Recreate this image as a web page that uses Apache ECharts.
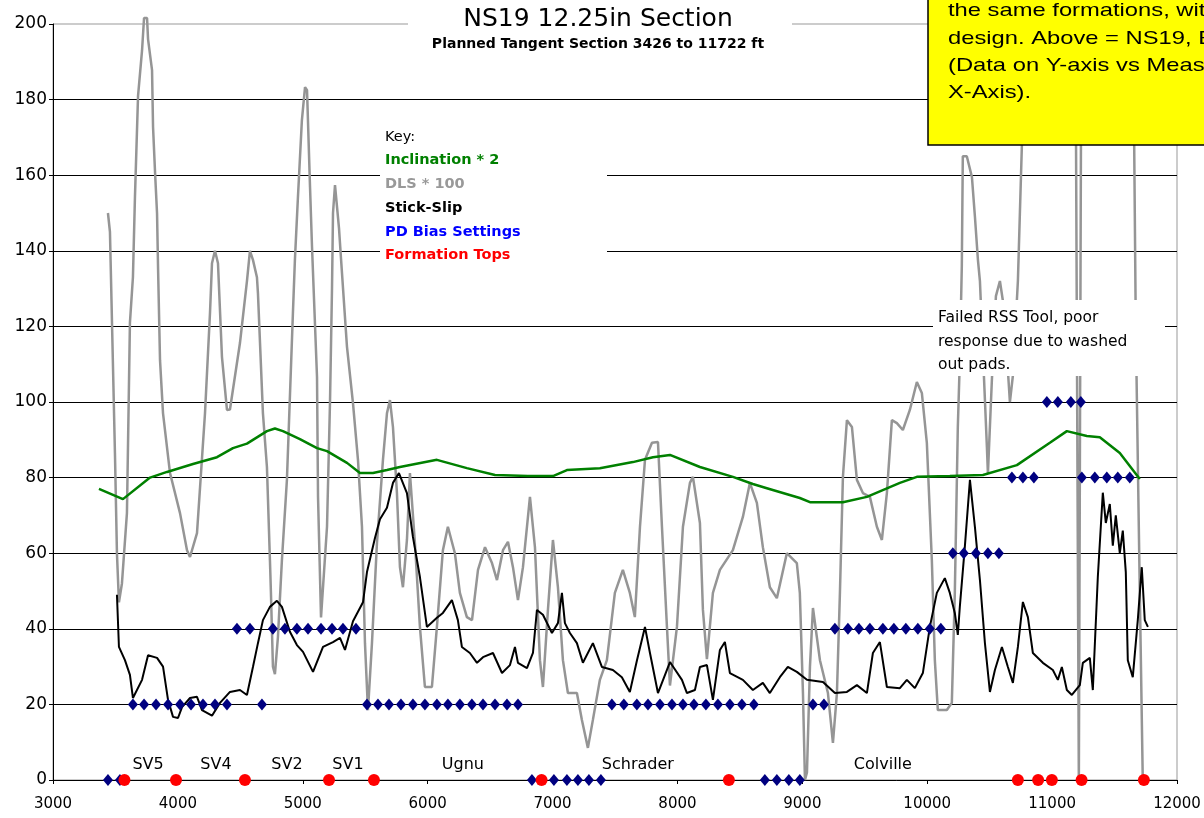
<!DOCTYPE html>
<html><head><meta charset="utf-8">
<script src="https://cdn.jsdelivr.net/npm/echarts@6/dist/echarts.min.js"></script>
<style>html,body{margin:0;padding:0;background:#fff}#c{width:1204px;height:818px}</style>
</head><body><div id="c"></div>
<script>
// ---- DATA ----
const incDepth = [3368,3560,3777,3913,4121,4313,4441,4553,4713,4777,4841,4977,5114,5194,5354,5458,5562,5674,5778,6074,6314,6539,6803,7003,7115,7379,7643,7804,7940,8180,8444,8604,8716,8980,9061,9325,9517,9781,9917,10181,10446,10718,10982,11118,11278,11382,11542,11702];
const incValue = [77,74.3,80,81.5,83.6,85.4,87.8,89,92.3,93,92.3,90.2,87.8,87,83.9,81.2,81.2,82,82.8,84.7,82.5,80.7,80.4,80.4,82,82.5,84.1,85.4,86,82.8,80.2,78.3,77.2,74.6,73.5,73.5,74.9,78.6,80.2,80.4,80.7,83.3,89.2,92.3,91,90.7,86.5,79.6];

const dlsDepth = [3440,3456,3496,3512,3528,3552,3592,3616,3640,3656,3681,3713,3729,3753,3761,3793,3801,3817,3833,3841,3857,3881,3937,4017,4073,4097,4153,4217,4257,4273,4297,4321,4353,4393,4417,4497,4553,4577,4601,4633,4641,4681,4713,4737,4745,4761,4777,4801,4833,4873,4921,4937,4961,4993,5018,5034,5058,5074,5114,5122,5146,5170,5194,5218,5234,5242,5258,5274,5290,5306,5354,5402,5442,5474,5498,5522,5554,5594,5642,5674,5698,5722,5754,5778,5802,5834,5858,5898,5938,5978,6034,6074,6122,6162,6218,6258,6314,6355,6403,6459,6515,6555,6603,6643,6683,6723,6763,6819,6859,6899,6923,6963,7003,7043,7083,7123,7195,7235,7283,7323,7379,7435,7499,7563,7619,7659,7700,7740,7796,7844,7876,7916,7940,7996,8044,8100,8124,8180,8204,8236,8284,8340,8444,8524,8580,8636,8684,8740,8796,8876,8956,8980,9005,9021,9037,9061,9085,9141,9205,9245,9277,9301,9325,9357,9397,9437,9485,9541,9597,9637,9677,9717,9757,9805,9861,9917,9957,9997,10037,10061,10085,10157,10197,10221,10245,10261,10277,10285,10317,10358,10382,10406,10422,10478,10486,10518,10550,10582,10614,10662,10686,10726,10758,10790,11182,11214,11238,11638,11670,11702,11726];
const dlsValue = [150,145,86.5,60,47,52,70.6,121,133,154,181,193,201.6,201.6,196,187.8,172.8,160.8,150,135.7,111,97,81.2,70.6,60.8,59,65.3,97,123.5,136.7,140,136.7,111.9,97.9,98,115.6,132,140,137.6,133,128.8,97,82.8,58.2,49.5,30,28,37.8,58.2,79.4,123.5,137.6,154,174.6,183.3,182.5,156.9,141,106.6,75,43,55,67,100,130,150,157.4,157,146,138,114.6,99.7,84.7,67,36.2,18.5,36.2,62.7,84.7,97,100.5,93.4,75.9,56.3,51,63.5,81.2,62.7,40.5,24.6,24.6,40.5,60.8,67,60,49.5,43.1,42.3,55.6,61.6,57.4,52.9,60.8,63,56.3,47.6,56.3,74.9,61.6,31.7,24.6,45,63.5,51,31.7,23,23,15.9,8.5,15.9,26.5,31.7,49.5,55.6,49.5,43.1,67,84.7,89.2,89.4,67,40.5,25,40.5,67,78.6,80.2,68,45,32,49.5,55.6,60.8,69.6,78.6,73.3,61.6,51,48.1,60,57.4,49.5,23,0,2,30,45.5,31.7,23,9.8,23,49.5,80.2,95.2,93.4,79.4,75.9,74.9,67,63.5,75.9,95.2,94.4,92.6,97.9,105.3,102.4,89.2,58.2,31.7,18.5,18.5,20.4,49.5,93.4,111,136,165,165,159.5,149,137.6,132,88,81,106,128,132,125,100,107,132,168,240,240,0,240,240,120,50,0];

const ssDepth = [3512,3528,3576,3616,3640,3713,3761,3833,3881,3921,3961,4001,4033,4097,4153,4193,4273,4337,4417,4497,4553,4601,4641,4681,4737,4793,4833,4897,4953,5002,5082,5162,5242,5298,5338,5402,5482,5514,5578,5618,5674,5722,5770,5834,5882,5938,5994,6074,6122,6194,6242,6274,6338,6395,6443,6523,6595,6659,6699,6723,6795,6843,6875,6923,6995,7043,7075,7099,7139,7195,7243,7323,7395,7483,7555,7619,7676,7740,7780,7844,7940,8036,8076,8140,8180,8236,8284,8340,8380,8420,8524,8604,8684,8740,8820,8884,8956,9037,9165,9261,9357,9437,9517,9565,9621,9677,9781,9837,9901,9965,10021,10077,10141,10181,10221,10245,10261,10301,10342,10358,10382,10422,10462,10502,10542,10598,10646,10686,10726,10766,10806,10846,10926,11006,11046,11078,11118,11158,11222,11246,11302,11326,11366,11406,11430,11462,11486,11510,11542,11566,11590,11606,11646,11686,11718,11742,11767];
const ssValue = [49,35.2,31.7,27.8,21.7,26.5,33,32.3,30,21.2,16.7,16.4,19.3,21.7,22,18.5,17,20.4,23.3,23.8,22.5,29.9,36.2,42.3,45.8,47.4,45.8,39.2,35.7,33.9,28.6,35.2,36.5,37.6,34.4,42,47,55,64,69,72,78.6,81.2,75.9,64.3,53.7,40.5,42.9,44.2,47.6,42.3,35.2,33.6,31,32.5,33.6,28.3,30.4,35.2,31,29.6,33.6,45,43.7,38.9,41.5,49.5,41.5,38.9,36.2,31,36.2,29.9,29.1,27.2,23.3,31.7,40.5,33.6,23,31.2,26.5,23,23.8,29.9,30.4,21.2,34.4,36.5,28.3,26.5,23.8,25.7,23,27.2,29.9,28.6,26.5,25.9,23,23.3,25.1,23,33.6,36.5,24.6,24.3,26.5,24.3,28.3,40.5,49.5,53.4,49.5,44.2,38.4,45.8,61.6,79.4,79.9,66.9,52.9,36.2,23.3,29.1,35.2,29.9,25.7,35.2,47.1,43.1,33.6,31,29.1,26.5,29.9,23.8,22.5,25.1,31,32.3,23.8,53.7,76,68,73,62,70,60,66,55,31.7,27.2,42.3,56.3,42.3,40.5];

const pdDepth = [3440,3536,6835,7011,7115,7203,7291,7387,8700,8796,8892,8980,
  3640,3729,3825,3921,4017,4105,4201,4297,4393,4673,5514,5602,5690,5786,5882,5978,6074,6162,6258,6354,6443,6539,6635,6723,7475,7571,7675,7764,7860,7956,8044,8132,8228,8324,8420,8516,8612,9085,9173,
  4473,4577,4761,4857,4953,5042,5146,5234,5322,5426,9261,9365,9453,9541,9645,9733,9829,9925,10021,10109,
  10205,10293,10390,10486,10574,
  10678,10766,10854,11238,11342,11438,11526,11622,
  10958,11046,11150,11230];
const pdSetting = [0,0,0,0,0,0,0,0,0,0,0,0,
  20,20,20,20,20,20,20,20,20,20,20,20,20,20,20,20,20,20,20,20,20,20,20,20,20,20,20,20,20,20,20,20,20,20,20,20,20,20,20,
  40,40,40,40,40,40,40,40,40,40,40,40,40,40,40,40,40,40,40,40,
  60,60,60,60,60,
  80,80,80,80,80,80,80,80,
  100,100,100,100];

const topDepth = [3572,3985,4537,5210,5570,6912,8412,10726,10888,10998,11236,11735];
const formationNames = ['SV5','SV4','SV2','SV1','Ugnu','Schrader','Colville'];
const formationLabelDepth = [3761,4305,4873,5362,6282,7683,9645];
const formationLabelLevel = 4;

const xTicks = {min:3000, max:12000, step:1000};
const yTicks = {min:0, max:200, step:20};

const titleText = 'NS19 12.25in Section';
const subtitleText = 'Planned Tangent Section 3426 to 11722 ft';
const keyItems = [
  {text:'Key:', color:'#000000', bold:false},
  {text:'Inclination * 2', color:'#008000', bold:true},
  {text:'DLS * 100', color:'#999999', bold:true},
  {text:'Stick-Slip', color:'#000000', bold:true},
  {text:'PD Bias Settings', color:'#0000ff', bold:true},
  {text:'Formation Tops', color:'#ff0000', bold:true}
];
const noteLines = ['Failed RSS Tool, poor','response due to washed','out pads.'];
const yellowLines = ['the same formations, wit','design. Above = NS19, E','(Data on Y-axis vs Meas','X-Axis).'];

// ---- CHART ----
const pairs = (xs, ys) => xs.map((x, i) => [x, ys[i]]);
const chart = echarts.init(document.getElementById('c'), null, {renderer:'canvas'});

const graphic = [];
// title box
graphic.push({type:'rect', z:100, shape:{x:408,y:0,width:384,height:58}, style:{fill:'#ffffff'}});
graphic.push({type:'text', z:101, x:598, y:19, style:{text:titleText, font:'25px "DejaVu Sans"', fill:'#000', textAlign:'center', textVerticalAlign:'middle'}});
graphic.push({type:'text', z:101, x:598, y:44, style:{text:subtitleText, font:'bold 14px "DejaVu Sans"', fill:'#000', textAlign:'center', textVerticalAlign:'middle'}});
// key box
graphic.push({type:'rect', z:100, shape:{x:380,y:112,width:227,height:158}, style:{fill:'#ffffff'}});
keyItems.forEach((k, i) => {
  graphic.push({type:'text', z:101, x:385, y:137 + i*23.7, style:{text:k.text, font:(k.bold?'bold ':'')+'14.5px "DejaVu Sans"', fill:k.color, textAlign:'left', textVerticalAlign:'middle'}});
});
// note box
graphic.push({type:'rect', z:100, shape:{x:933,y:300,width:232,height:76}, style:{fill:'#ffffff'}});
noteLines.forEach((t, i) => {
  graphic.push({type:'text', z:101, x:938, y:318 + i*23.5, style:{text:t, font:'15.5px "DejaVu Sans"', fill:'#000', textAlign:'left', textVerticalAlign:'middle'}});
});
// yellow box
graphic.push({type:'rect', z:102, shape:{x:928,y:-5,width:300,height:150}, style:{fill:'#ffff00', stroke:'#000', lineWidth:1.5}});
yellowLines.forEach((t, i) => {
  graphic.push({type:'text', z:103, x:948, y:11 + i*27.3, scaleX:1.25, style:{x:0, y:0, text:t, font:'19px "Liberation Sans"', fill:'#000', textAlign:'left', textVerticalAlign:'middle'}});
});

const option = {
  animation:false,
  backgroundColor:'#ffffff',
  grid:{left:53, right:27, top:24, bottom:38, show:true, borderColor:'#999999', borderWidth:1, backgroundColor:'transparent'},
  xAxis:{type:'value', min:xTicks.min, max:xTicks.max, interval:xTicks.step,
    axisLine:{lineStyle:{color:'#000', width:1}},
    axisTick:{show:true, length:4, lineStyle:{color:'#000'}},
    axisLabel:{color:'#000', fontFamily:'DejaVu Sans', fontSize:15, margin:17, formatter:v => String(v)},
    splitLine:{show:false}},
  yAxis:{type:'value', min:yTicks.min, max:yTicks.max, interval:yTicks.step,
    axisLine:{show:true, lineStyle:{color:'#000', width:1}},
    axisTick:{show:true, length:4, lineStyle:{color:'#000'}},
    axisLabel:{color:'#000', fontFamily:'DejaVu Sans', fontSize:17, margin:6, formatter:v => String(v)},
    splitLine:{show:true, showMinLine:false, showMaxLine:false, lineStyle:{color:'#000', width:1}}},
  series:[
    {name:'DLS * 100', type:'line', data:pairs(dlsDepth, dlsValue), symbol:'none', clip:false, z:2,
     lineStyle:{color:'#959595', width:2.5}},
    {name:'Inclination * 2', type:'line', data:pairs(incDepth, incValue), symbol:'none', z:3,
     lineStyle:{color:'#008000', width:2.5}},
    {name:'Stick-Slip', type:'line', data:pairs(ssDepth, ssValue), symbol:'none', z:4,
     lineStyle:{color:'#000000', width:2}},
    {name:'PD Bias Settings', type:'scatter', data:pairs(pdDepth, pdSetting), symbol:'diamond', symbolSize:[10,12], z:5,
     itemStyle:{color:'#000080', opacity:1}},
    {name:'Formation Tops', type:'scatter', data:topDepth.map(d => [d, 0]), symbol:'circle', symbolSize:12, z:6,
     itemStyle:{color:'#ff0000', opacity:1}},
    {name:'Formations', type:'scatter', z:6, symbolSize:1, itemStyle:{color:'rgba(0,0,0,0)'},
     data:formationLabelDepth.map((d, i) => ({name:formationNames[i], value:[d, formationLabelLevel]})),
     label:{show:true, position:'inside', formatter:'{b}', color:'#000000', opacity:1, textBorderWidth:0, fontFamily:'DejaVu Sans', fontSize:16}}
  ],
  graphic:graphic
};
chart.setOption(option);
</script></body></html>
